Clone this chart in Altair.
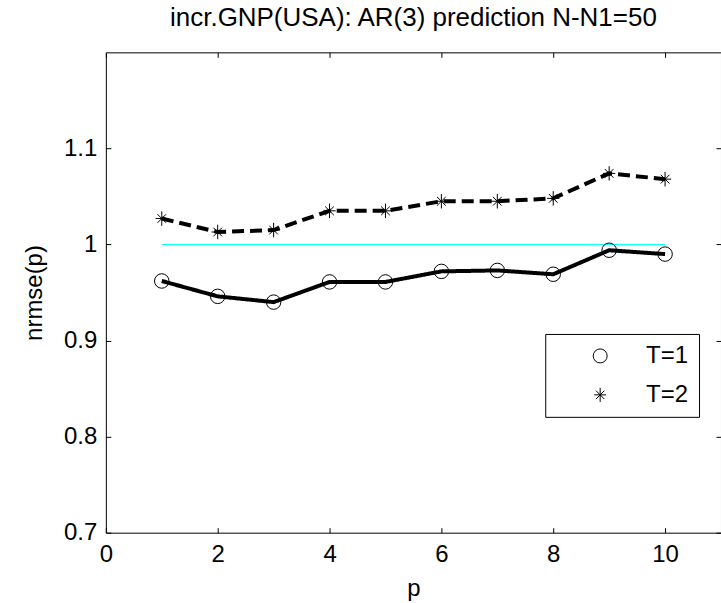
import altair as alt
import pandas as pd

# ---- data ----
p_values = [1, 2, 3, 4, 5, 6, 7, 8, 9, 10]
nrmse_T1 = [0.962, 0.946, 0.940, 0.961, 0.961, 0.972, 0.973, 0.969, 0.994, 0.990]
nrmse_T2 = [1.027, 1.013, 1.015, 1.035, 1.035, 1.045, 1.045, 1.048, 1.074, 1.068]
series_names = ["T=1", "T=2"]
line_styles = ["solid", "dashed"]
ref_p = [1, 10]
ref_level = [1.0, 1.0]
x_ticks = [0, 2, 4, 6, 8, 10]
y_ticks = [0.7, 0.8, 0.9, 1.0, 1.1]
title_text = "incr.GNP(USA): AR(3) prediction N-N1=50"

n = len(p_values)
df = pd.DataFrame({
    "p": p_values * 2,
    "nrmse": nrmse_T1 + nrmse_T2,
    "series": [series_names[0]] * n + [series_names[1]] * n,
    "style": [line_styles[0]] * n + [line_styles[1]] * n,
})
ref_df = pd.DataFrame({"p": ref_p, "nrmse": ref_level})

FONT = "Liberation Sans"
W, H = 616, 481

x_scale = alt.Scale(domain=[0, 11], nice=False, zero=False)
y_scale = alt.Scale(domain=[0.7, 1.2], nice=False, zero=False)

star = "M0,-1L0,1M-0.85,0L0.85,0M-0.6,-0.6L0.6,0.6M-0.6,0.6L0.6,-0.6"

common_axis = dict(domain=False, grid=False, tickSize=5, offset=-5,
                   tickColor="black", tickWidth=1, labelColor="black",
                   labelFont=FONT, labelFontSize=24, labelFlush=False,
                   labelOverlap=False)

x_bottom = alt.Axis(orient="bottom", values=x_ticks, labelPadding=10,
                    title="p", titleFont=FONT, titleFontSize=24,
                    titleFontWeight="normal", titleColor="black",
                    titleX=W / 2, titleY=68, titleAlign="center",
                    titleBaseline="alphabetic", **common_axis)
y_left = alt.Axis(orient="left", values=y_ticks, format="~g", labelPadding=9,
                  title="nrmse(p)", titleFont=FONT, titleFontSize=24,
                  titleFontWeight="normal", titleColor="black",
                  titleAngle=270, titleX=-69, titleY=H / 2,
                  titleAlign="center", titleBaseline="alphabetic",
                  **common_axis)
x_top = alt.Axis(orient="top", values=x_ticks, labels=False, title=None,
                 **common_axis)
y_right = alt.Axis(orient="right", values=y_ticks, labels=False, title=None,
                   **common_axis)

ref = alt.Chart(ref_df).mark_line(color="#00FFFF", strokeWidth=1).encode(
    x=alt.X("p:Q", scale=x_scale, axis=x_bottom),
    y=alt.Y("nrmse:Q", scale=y_scale, axis=y_left),
)

lines = alt.Chart(df).mark_line(color="black", strokeWidth=4).encode(
    x=alt.X("p:Q", scale=x_scale, axis=x_top),
    y=alt.Y("nrmse:Q", scale=y_scale, axis=y_right),
    strokeDash=alt.StrokeDash("style:N",
                              scale=alt.Scale(domain=line_styles,
                                              range=[[1, 0], [12, 6]]),
                              legend=None),
    detail="style:N",
)

points = alt.Chart(df).mark_point(filled=False, color="black", strokeWidth=1,
                                  size=210, opacity=1).encode(
    x=alt.X("p:Q", scale=x_scale, axis=None),
    y=alt.Y("nrmse:Q", scale=y_scale, axis=None),
    shape=alt.Shape("series:N",
                    scale=alt.Scale(domain=series_names, range=["circle", star]),
                    legend=alt.Legend(orient="none", legendX=440, legendY=282,
                                      title=None, padding=10,
                                      strokeColor="black", fillColor="white",
                                      symbolOffset=33, labelOffset=34,
                                      rowPadding=15, labelFont=FONT,
                                      labelFontSize=24, labelColor="black",
                                      symbolSize=196, symbolStrokeWidth=1,
                                      symbolStrokeColor="black",
                                      symbolFillColor="transparent")),
)

chart = alt.layer(ref, lines, points).resolve_axis(
    x="independent", y="independent"
).properties(
    width=W, height=H,
    title=alt.Title(title_text, font=FONT, fontSize=26, fontWeight="normal",
                    color="black", anchor="middle", offset=0,
                    baseline="alphabetic"),
    autosize=alt.AutoSizeParams(type="none"),
    padding={"left": 106, "top": 52, "right": 0, "bottom": 72},
).configure_view(stroke="black", strokeWidth=1)

chart.save("out.html", embed_options={"renderer": "svg", "actions": False})
